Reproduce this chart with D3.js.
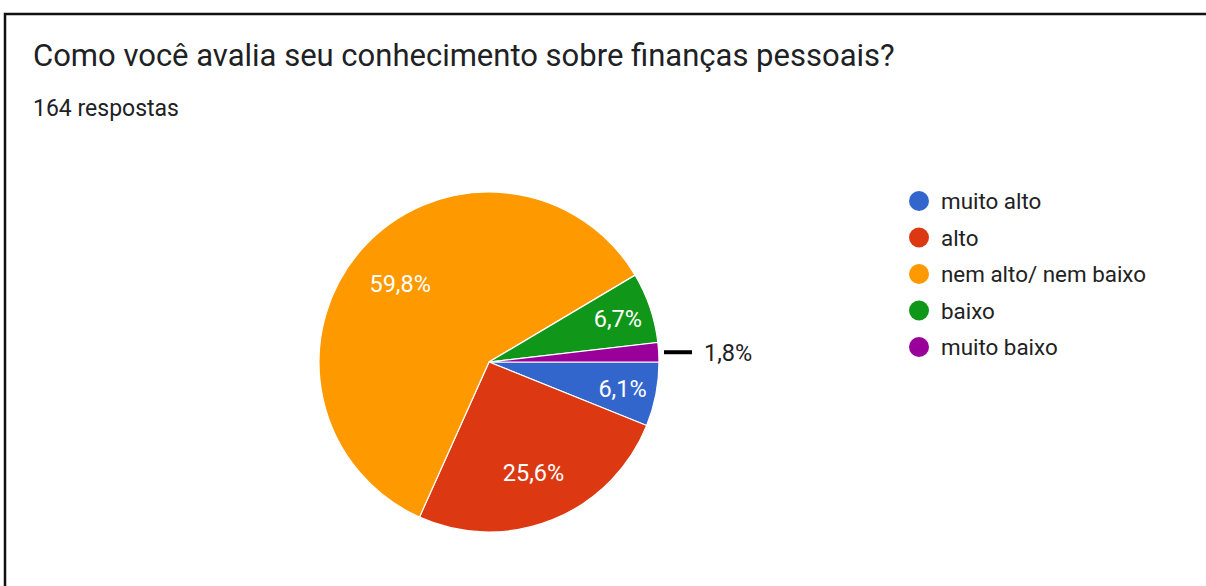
<!DOCTYPE html>
<html>
<head>
<meta charset="utf-8">
<script src="https://cdn.jsdelivr.net/npm/d3@7"></script>
<style>
  html, body { margin: 0; padding: 0; background: #fff; }
  svg { display: block; font-family: Roboto, Arial, sans-serif; }
</style>
</head>
<body>
<svg width="1206" height="586"></svg>
<script>
// survey answers (164 respostas)
const categories = ["muito alto", "alto", "nem alto/ nem baixo", "baixo", "muito baixo"];
const counts = [10, 42, 98, 11, 3];
const colours = ["#3366cc", "#dc3912", "#ff9900", "#109618", "#990099"];
const title = "Como você avalia seu conhecimento sobre finanças pessoais?";
const subtitle = "164 respostas";

const width = 1206, height = 586;
const center = { x: 489, y: 362 };
const radius = 170;

const svg = d3.select('svg');

// frame (only top and left edges show in the crop)
svg.append('path')
  .attr('d', `M5,${height} V14 H${width}`)
  .attr('fill', 'none')
  .attr('stroke', '#111')
  .attr('stroke-width', 2.5);

svg.append('text')
  .attr('x', 33).attr('y', 66)
  .attr('fill', '#202124')
  .style('font-size', '31px')
  .text(title);

svg.append('text')
  .attr('x', 33).attr('y', 116)
  .attr('fill', '#202124')
  .style('font-size', '23px')
  .text(subtitle);

const total = d3.sum(counts);
const data = categories.map((c, i) => ({ name: c, value: counts[i], colour: colours[i] }));

const pie = d3.pie()
  .value(d => d.value)
  .sort(null)
  .startAngle(Math.PI / 2)
  .endAngle(Math.PI / 2 + 2 * Math.PI);

const arcs = pie(data);
const arc = d3.arc().innerRadius(0).outerRadius(radius);
const fmt = v => d3.format('.1f')(v * 100).replace('.', ',') + '%';

const g = svg.append('g').attr('transform', `translate(${center.x},${center.y})`);

g.selectAll('.slice')
  .data(arcs)
  .enter()
  .append('path')
  .attr('class', 'slice')
  .attr('d', arc)
  .attr('fill', d => d.data.colour)
  .attr('stroke', '#fff')
  .attr('stroke-width', 1.2);

// labels inside for slices that fit, outside with a leader line otherwise
const inside = arcs.filter(d => d.value / total > 0.03);
const outside = arcs.filter(d => d.value / total <= 0.03);

g.selectAll('.label')
  .data(inside)
  .enter()
  .append('text')
  .attr('class', 'label')
  .attr('transform', d => {
    const r = d.value / total > 0.2 ? radius * 0.7 : radius * 0.8;
    const c = d3.arc().innerRadius(r).outerRadius(r).centroid(d);
    return `translate(${c[0]},${c[1]})`;
  })
  .attr('text-anchor', 'middle')
  .attr('dy', '0.38em')
  .attr('fill', '#fff')
  .style('font-size', '23.5px')
  .text(d => fmt(d.value / total));

outside.forEach(d => {
  const a = (d.startAngle + d.endAngle) / 2;
  const y = -Math.cos(a) * radius;
  g.append('line')
    .attr('x1', radius + 5).attr('x2', radius + 33)
    .attr('y1', y).attr('y2', y)
    .attr('stroke', '#000')
    .attr('stroke-width', 4);
  g.append('text')
    .attr('x', radius + 45).attr('y', y)
    .attr('dy', '0.38em')
    .attr('fill', '#222')
    .style('font-size', '23.5px')
    .text(fmt(d.value / total));
});

// legend
const legendY = d3.scalePoint().domain(categories).range([201, 347]);

const legend = svg.selectAll('.legend')
  .data(data)
  .enter()
  .append('g')
  .attr('class', 'legend')
  .attr('transform', d => `translate(919,${legendY(d.name)})`);

legend.append('circle')
  .attr('r', 10)
  .attr('fill', d => d.colour);

legend.append('text')
  .attr('x', 22)
  .attr('dy', '0.36em')
  .attr('fill', '#222')
  .style('font-size', '22.4px')
  .text(d => d.name);
</script>
</body>
</html>
